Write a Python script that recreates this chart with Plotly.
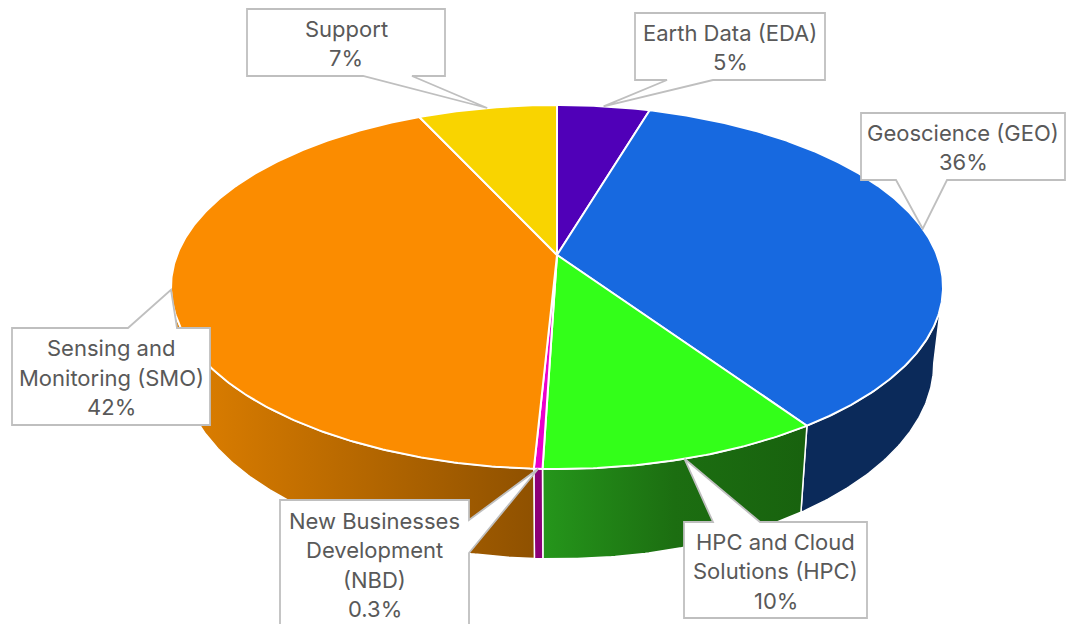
import numpy as np
import plotly.graph_objects as go

# ---------------- data ----------------
categories = ["Earth Data (EDA)", "Geoscience (GEO)", "HPC and Cloud Solutions (HPC)",
              "New Businesses Development (NBD)", "Sensing and Monitoring (SMO)", "Support"]
shares = [4.6, 35.9, 10.0, 0.3, 42.3, 6.9]
label_lines = [["Earth Data (EDA)"], ["Geoscience (GEO)"], ["HPC and Cloud", "Solutions (HPC)"],
               ["New Businesses", "Development", "(NBD)"], ["Sensing and", "Monitoring (SMO)"],
               ["Support"]]

# ---------------- styles ----------------
top_colors = ["#5000B8", "#1769E0", "#33FF19", "#EA00CC", "#FB8C00", "#F9D400"]
side_fill = ["#2E006E", "#0B2A5A", None, "#8C0078", None, "#B89A00"]
side_grad = [None, None, [[0, "#25961B"], [0.5, "#1C6E11"], [1, "#18620E"]],
             None, [[0, "#E08000"], [1, "#8F5100"]], None]
TEXT = "#595959"
FONT = "Inter"
FSIZE = 22

# perspective pie geometry (pixels)
CX, CY, A, B, K, D, S = 557, 255, 380, 176.4, 0.1758, 74, 0.976


def top_pt(t):
    w = 1 + K * np.cos(t)
    return CX + A * np.sin(t) / w, CY - B * np.cos(t) / w


def bot_pt(t):
    w = 1 + K * np.cos(t)
    return CX + S * A * np.sin(t) / w, CY - B * np.cos(t) / w + D / w


total = sum(shares)
cum = np.concatenate([[0], np.cumsum(shares)]) / total
t_R = np.arccos(-K)
t_L = 2 * np.pi - t_R

fig = go.Figure()

# side faces
for i in range(len(shares)):
    t1, t2 = 2 * np.pi * cum[i], 2 * np.pi * cum[i + 1]
    a, b = max(t1, t_R), min(t2, t_L)
    if b <= a:
        continue
    ts = np.linspace(a, b, max(3, int((b - a) * 120)))
    xt, yt = top_pt(ts)
    xb, yb = bot_pt(ts[::-1])
    xs = np.concatenate([xt, xb, xt[:1]])
    ys = np.concatenate([yt, yb, yt[:1]])
    kw = dict(x=xs, y=ys, mode="lines", fill="toself",
              line=dict(color="white", width=1.5), hoverinfo="skip", showlegend=False)
    if side_grad[i] is not None:
        kw["fillgradient"] = dict(type="horizontal", colorscale=side_grad[i])
    else:
        kw["fillcolor"] = side_fill[i]
    fig.add_trace(go.Scatter(**kw))

# top faces
for i in range(len(shares)):
    t1, t2 = 2 * np.pi * cum[i], 2 * np.pi * cum[i + 1]
    ts = np.linspace(t1, t2, max(3, int((t2 - t1) * 120)))
    xt, yt = top_pt(ts)
    xs = np.concatenate([[CX], xt, [CX]])
    ys = np.concatenate([[CY], yt, [CY]])
    fig.add_trace(go.Scatter(x=xs, y=ys, mode="lines", fill="toself", fillcolor=top_colors[i],
                             line=dict(color="white", width=2), hoverinfo="skip",
                             showlegend=False, name=categories[i]))

# ---------------- callout layout ----------------
callouts = [
    dict(box=(635, 13, 825, 80), edge="bottom", base=(667, 713)),
    dict(box=(861, 113, 1065, 180), edge="bottom", base=(896, 947)),
    dict(box=(684, 522, 867, 618), edge="top", base=(713, 760)),
    dict(box=(280, 500, 469, 634), edge="right", base=(520, 553)),
    dict(box=(12, 328, 210, 425), edge="top", base=(128, 177)),
    dict(box=(247, 9, 445, 76), edge="bottom", base=(363, 412)),
]
LINE_H = 29.5

for i, c in enumerate(callouts):
    x0, y0, x1, y1 = c["box"]
    tm = 2 * np.pi * (cum[i] + cum[i + 1]) / 2
    tx, ty = top_pt(tm)
    b1, b2 = c["base"]
    if c["edge"] == "bottom":
        pts = [(x0, y0), (x1, y0), (x1, y1), (b2, y1), (tx, ty), (b1, y1), (x0, y1)]
    elif c["edge"] == "top":
        pts = [(x0, y0), (b1, y0), (tx, ty), (b2, y0), (x1, y0), (x1, y1), (x0, y1)]
    else:  # right
        pts = [(x0, y0), (x1, y0), (x1, b1), (tx, ty), (x1, b2), (x1, y1), (x0, y1)]
    path = "M " + " L ".join(f"{px:.1f},{py:.1f}" for px, py in pts) + " Z"
    fig.add_shape(type="path", path=path, xref="x", yref="y", fillcolor="white",
                  line=dict(color="#BFBFBF", width=1.8), layer="above")

    share = shares[i] / total * 100
    pct = f"{share:.1f}%" if share < 1 else f"{share:.0f}%"
    lines = label_lines[i] + [pct]
    ymid = 565 if c["edge"] == "right" else (y0 + y1) / 2 + 1
    xmid = (x0 + x1) / 2
    n = len(lines)
    for j, ln in enumerate(lines):
        fig.add_annotation(x=xmid, y=ymid + (j - (n - 1) / 2) * LINE_H, text=ln,
                           showarrow=False, xref="x", yref="y",
                           font=dict(family=FONT, size=FSIZE, color=TEXT),
                           xanchor="center", yanchor="middle")

fig.update_layout(
    width=1066, height=624, margin=dict(l=0, r=0, t=0, b=0),
    paper_bgcolor="white", plot_bgcolor="white",
    xaxis=dict(range=[0, 1066], visible=False, fixedrange=True),
    yaxis=dict(range=[624, 0], visible=False, fixedrange=True),
    showlegend=False,
)

fig.write_html("out.html", config={"displayModeBar": False},
               post_script="document.body.style.margin='0px';document.body.style.overflow='hidden';")
